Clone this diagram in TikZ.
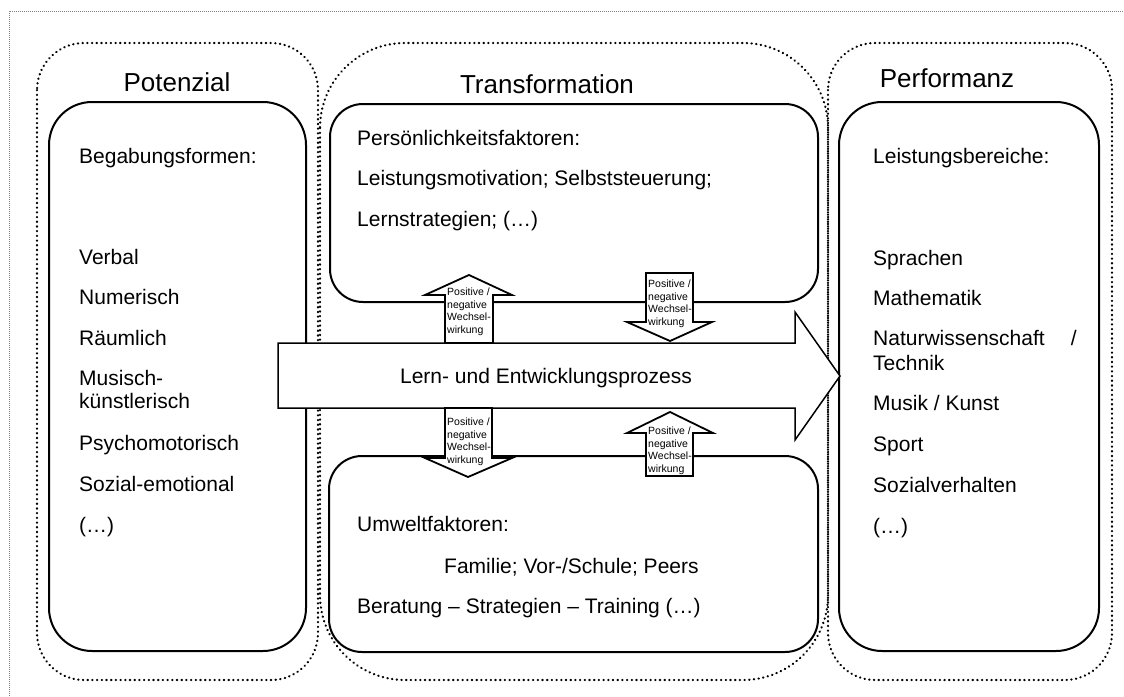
\documentclass[tikz,border=0pt]{standalone}
\usepackage{fontspec}
\setmainfont{Liberation Sans}
\begin{document}
\begin{tikzpicture}[x=1pt,y=-1pt,
  dotbox/.style={line width=2.3pt, dash pattern=on 0.3pt off 4.4pt, line cap=round},
  solidbox/.style={line width=2pt},
  txt/.style={anchor=base west, inner sep=0pt, font=\fontsize{21}{25}\selectfont},
  ttl/.style={anchor=base, inner sep=0pt, font=\fontsize{26}{30}\selectfont},
  small/.style={anchor=north west, inner sep=0pt, align=left, font=\fontsize{10.5}{12.4}\selectfont},
  blockarrow/.style={draw, fill=white, line width=1.8pt, line join=miter}]
\useasboundingbox (0,0) rectangle (1124,696);
% outer frame
\draw[gray, line width=1pt, dash pattern=on 1pt off 1pt] (9,696) -- (9,11) -- (1124,11);
% dotted column boxes
\draw[dotbox, rounded corners=47pt] (37,43) rectangle (318,680);
\draw[dotbox, rounded corners=85pt] (320,43) rectangle (828,680);
\draw[dotbox, rounded corners=47pt] (828,43) rectangle (1112,680);
% inner solid boxes
\draw[solidbox, rounded corners=43pt] (49,102) rectangle (306,651);
\draw[solidbox, rounded corners=33pt] (330,104) rectangle (818,302);
\draw[solidbox, rounded corners=33pt] (329,456) rectangle (818,652);
\draw[solidbox, rounded corners=43pt] (839,102) rectangle (1099,651);
% titles
\node[ttl] (tpot) at (177,91) {Potenzial};
\node[ttl] (ttra) at (547,93) {Transformation};
\node[ttl] (tper) at (947,87) {Performanz};
% left column
\node[txt] (p0) at (79,163) {Begabungsformen:};
\node[txt] (p1) at (79,264) {Verbal};
\node[txt] (p2) at (79,304) {Numerisch};
\node[txt] (p3) at (79,345) {Räumlich};
\node[txt] (p4) at (79,385) {Musisch-};
\node[txt] (p5) at (79,408) {künstlerisch};
\node[txt] (p6) at (79,450) {Psychomotorisch};
\node[txt] (p7) at (79,491) {Sozial-emotional};
\node[txt] (p8) at (79,532) {(…)};
% transformation top
\node[txt] (t1) at (357,145) {Persönlichkeitsfaktoren:};
\node[txt] (t2) at (357,185) {Leistungsmotivation; Selbststeuerung;};
\node[txt] (t3) at (357,226) {Lernstrategien; (…)};
% transformation bottom
\node[txt] (u1) at (357,531) {Umweltfaktoren:};
\node[txt] (u2) at (444,573) {Familie; Vor-/Schule; Peers};
\node[txt] (u3) at (357,613) {Beratung – Strategien – Training (…)};
% right column
\node[txt] (r0) at (873,163) {Leistungsbereiche:};
\node[txt] (r1) at (873,265) {Sprachen};
\node[txt] (r2) at (873,305) {Mathematik};
\node[txt] (r3) at (873,345) {Naturwissenschaft\hspace{26pt}/};
\node[txt] (r4) at (873,370) {Technik};
\node[txt] (r5) at (873,410) {Musik / Kunst};
\node[txt] (r6) at (873,451) {Sport};
\node[txt] (r7) at (873,492) {Sozialverhalten};
\node[txt] (r8) at (873,533) {(…)};
% big arrow
\draw[blockarrow, line width=1.5pt] (278,343) -- (795,343) -- (795,312) -- (840,376) -- (795,440) -- (795,408) -- (278,408) -- cycle;
\node[anchor=base, inner sep=0pt, font=\fontsize{21}{25}\selectfont] (lern) at (546,383) {Lern- und Entwicklungsprozess};
% small arrows
\draw[blockarrow] (445,343) -- (445,295) -- (425,295) -- (469,275) -- (512,295) -- (493,295) -- (493,343) -- cycle;
\node[small] (sa1) at (447,288) {Positive /\\negative\\Wechsel-\\wirkung};
\draw[blockarrow] (646,273) -- (693,273) -- (693,322) -- (712,322) -- (670,341) -- (627,322) -- (646,322) -- cycle;
\node[small] (sa2) at (648,280) {Positive /\\negative\\Wechsel-\\wirkung};
\draw[blockarrow] (445,408) -- (492,408) -- (492,458) -- (512,458) -- (468,477) -- (425,458) -- (445,458) -- cycle;
\node[small] (sa3) at (447,418) {Positive /\\negative\\Wechsel-\\wirkung};
\draw[blockarrow] (670,412) -- (713,433) -- (693,433) -- (693,476) -- (646,476) -- (646,433) -- (627,433) -- cycle;
\node[small] (sa4) at (648,427) {Positive /\\negative\\Wechsel-\\wirkung};
\end{tikzpicture}
\end{document}
